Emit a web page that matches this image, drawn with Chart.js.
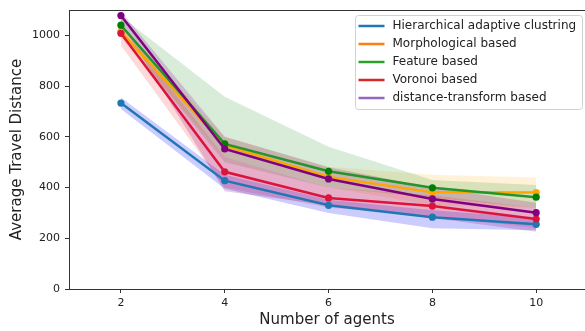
<!DOCTYPE html>
<html>
<head>
<meta charset="utf-8">
<script src="https://cdn.jsdelivr.net/npm/chart.js@4.4.1/dist/chart.umd.min.js"></script>
<style>
  html, body { margin: 0; padding: 0; overflow: hidden; background: #fff; }
  canvas { display: block; }
</style>
</head>
<body>
<canvas id="chart" width="585" height="331"></canvas>
<script>
// --- data ---
const agents = [2, 4, 6, 8, 10];
const xTicks = [2, 4, 6, 8, 10];
const yTicks = [0, 200, 400, 600, 800, 1000];
const seriesNames = ['Hierarchical adaptive clustring', 'Morphological based', 'Feature based', 'Voronoi based', 'distance-transform based'];

const hacMean = [733, 427, 330, 283, 255];
const hacLow = [710, 395, 300, 240, 232];
const hacHigh = [755, 450, 352, 310, 280];

const morphMean = [1015, 565, 442, 381, 380];
const morphLow = [990, 520, 400, 330, 320];
const morphHigh = [1040, 600, 482, 450, 440];

const featMean = [1040, 572, 464, 399, 362];
const featLow = [1000, 500, 400, 360, 320];
const featHigh = [1075, 758, 561, 430, 410];

const voroMean = [1008, 462, 359, 327, 276];
const voroLow = [960, 400, 320, 290, 240];
const voroHigh = [1040, 520, 400, 370, 320];

const dtMean = [1078, 552, 434, 355, 301];
const dtLow = [1050, 385, 330, 280, 226];
const dtHigh = [1095, 600, 480, 400, 340];

// --- styling ---
const lineColors = ['#1f77b4', '#ffa500', '#23952a', '#dc143c', '#800080'];
const pointColors = ['#1f77b4', '#ffa500', '#008000', '#dc143c', '#800080'];
const legendColors = ['#1f77b4', '#ff7f0e', '#2ca02c', '#d62728', '#9467bd'];
const bandColors = ['rgba(0,0,255,0.2)', 'rgba(255,165,0,0.15)', 'rgba(0,128,0,0.15)', 'rgba(255,0,0,0.15)', 'rgba(128,0,128,0.2)'];

const means = [hacMean, morphMean, featMean, voroMean, dtMean];
const lows = [hacLow, morphLow, featLow, voroLow, dtLow];
const highs = [hacHigh, morphHigh, featHigh, voroHigh, dtHigh];

const pts = arr => agents.map((a, i) => ({ x: a, y: arr[i] }));
const FONT = 'DejaVu Sans';
const TEXT = '#222';

const datasets = [];
means.forEach((m, i) => {
    datasets.push({
        label: seriesNames[i], data: pts(m), isMain: true, legendColor: legendColors[i],
        borderColor: lineColors[i], backgroundColor: pointColors[i],
        pointBackgroundColor: pointColors[i], pointBorderWidth: 0,
        borderWidth: 2.5, pointRadius: 3.6, fill: false, order: 5 - i
    });
});
means.forEach((m, i) => {
    datasets.push({ label: 'low' + i, data: pts(lows[i]), borderWidth: 0, borderColor: 'transparent', pointRadius: 0, fill: false, order: 20 - i });
    datasets.push({ label: 'high' + i, data: pts(highs[i]), borderWidth: 0, borderColor: 'transparent', pointRadius: 0, fill: '-1', backgroundColor: bandColors[i], order: 20 - i });
});

// top spine + matplotlib-style legend box inside the axes
const frameAndLegend = {
    id: 'frameAndLegend',
    afterDraw(chart) {
        const { ctx, chartArea: a } = chart;
        ctx.save();
        ctx.strokeStyle = '#333';
        ctx.lineWidth = 1;
        ctx.beginPath();
        ctx.moveTo(a.left, a.top + 0.5);
        ctx.lineTo(a.right, a.top + 0.5);
        ctx.stroke();

        const mains = chart.data.datasets.filter(d => d.isMain);
        const x0 = 355.5, y0 = a.top + 5.5, w = 227, h = 94;
        ctx.beginPath();
        ctx.roundRect(x0, y0, w, h, 3);
        ctx.fillStyle = 'rgba(255,255,255,0.8)';
        ctx.fill();
        ctx.strokeStyle = '#d0d0d0';
        ctx.stroke();

        ctx.font = '12px "' + FONT + '"';
        ctx.textBaseline = 'middle';
        mains.forEach((d, i) => {
            const y = y0 + 10.5 + i * 18;
            ctx.strokeStyle = d.legendColor;
            ctx.lineWidth = 2.5;
            ctx.beginPath();
            ctx.moveTo(x0 + 3, y);
            ctx.lineTo(x0 + 29, y);
            ctx.stroke();
            ctx.fillStyle = TEXT;
            ctx.fillText(d.label, x0 + 37, y);
        });
        ctx.restore();
    }
};

new Chart(document.getElementById('chart').getContext('2d'), {
    type: 'line',
    data: { datasets },
    plugins: [frameAndLegend],
    options: {
        responsive: false,
        animation: false,
        layout: { autoPadding: false, padding: { top: 10, right: 0, left: 0, bottom: 0 } },
        plugins: { legend: { display: false }, tooltip: { enabled: false } },
        scales: {
            x: {
                type: 'linear', min: 1, max: 10.94,
                afterBuildTicks: s => { s.ticks = xTicks.map(v => ({ value: v })); },
                afterFit: s => { s.height = 42; s.paddingLeft = 0; s.paddingRight = 0; },
                grid: { drawOnChartArea: false, drawTicks: true, tickLength: 4, color: '#333' },
                border: { display: true, color: '#333', width: 1 },
                ticks: { color: TEXT, font: { family: FONT, size: 11 }, padding: 4, maxRotation: 0 },
                title: { display: true, text: 'Number of agents', color: TEXT, font: { family: FONT, size: 15 }, padding: { top: 0, bottom: 2 } }
            },
            y: {
                min: 0, max: 1100,
                afterBuildTicks: s => { s.ticks = yTicks.map(v => ({ value: v })); },
                afterFit: s => { s.width = 69; s.paddingTop = 0; s.paddingBottom = 0; },
                grid: { drawOnChartArea: false, drawTicks: true, tickLength: 4, color: '#333' },
                border: { display: true, color: '#333', width: 1 },
                ticks: { color: TEXT, font: { family: FONT, size: 11 }, padding: 5, callback: v => String(v) },
                title: { display: true, text: 'Average Travel Distance', color: TEXT, font: { family: FONT, size: 15 }, padding: { top: 8, bottom: 0 } }
            }
        }
    }
});
</script>
</body>
</html>
